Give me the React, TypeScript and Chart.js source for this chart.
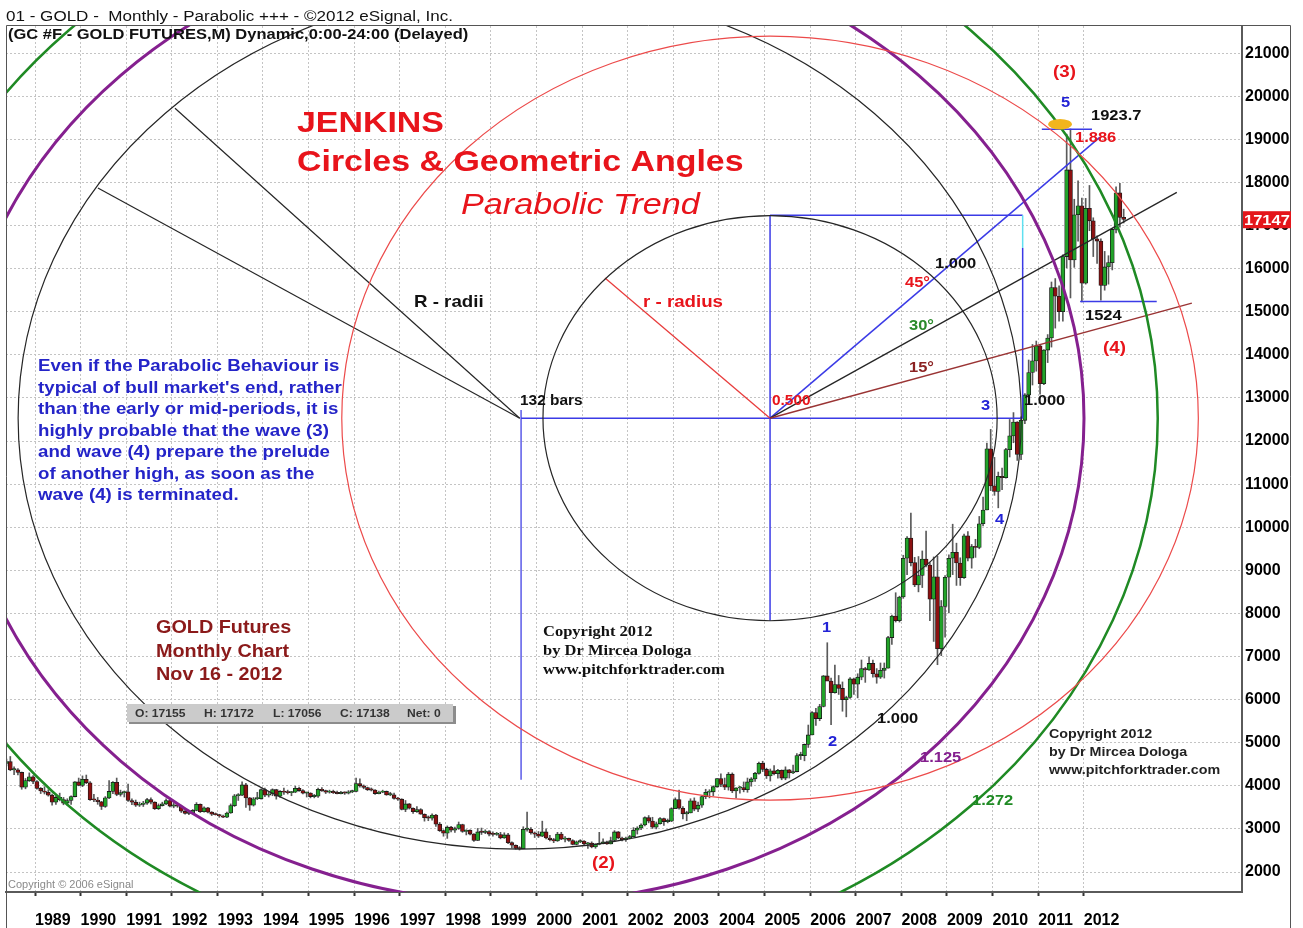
import React, { useEffect, useRef } from "react";
import { Chart, registerables } from "chart.js";

Chart.register(...registerables);

// ---------- DATA (prices in US$/oz; axis shows x10 as on the original) ----------
const FIRST_YEAR = 1988;
const FIRST_MONTH = 4; // May 1988 is the first monthly bar

const YEAR_TICKS = [1989, 1990, 1991, 1992, 1993, 1994, 1995, 1996, 1997, 1998, 1999, 2000,
  2001, 2002, 2003, 2004, 2005, 2006, 2007, 2008, 2009, 2010, 2011, 2012];
const PRICE_TICKS = [200, 300, 400, 500, 600, 700, 800, 900, 1000, 1100, 1200, 1300, 1400,
  1500, 1600, 1700, 1800, 1900, 2000, 2100];

const opens = [
  452, 456, 437, 437, 431, 397, 412, 421,
  410, 394, 388, 385, 378, 362, 373, 368, 360, 366, 375, 409,
  401, 415, 407, 368, 367, 363, 352, 372, 387, 408, 380, 384,
  386, 366, 362, 355, 357, 360, 368, 362, 347, 354, 358, 366,
  353, 354, 353, 341, 336, 337, 343, 357, 340, 349, 339, 334,
  333, 330, 327, 337, 354, 377, 378, 402, 372, 355, 370, 370,
  391, 378, 381, 391, 376, 387, 385, 384, 385, 394, 389, 383,
  383, 375, 376, 392, 389, 385, 387, 384, 382, 384, 383, 386,
  387, 405, 400, 396, 391, 390, 382, 385, 387, 379, 379, 371,
  369, 345, 358, 348, 340, 345, 334, 326, 325, 332, 311, 296,
  290, 304, 297, 301, 310, 294, 297, 288, 273, 293, 292, 294,
  288, 287, 287, 279, 286, 268, 262, 255, 254, 299, 299, 291,
  288, 283, 293, 279, 275, 272, 288, 276, 278, 273, 264, 270,
  272, 265, 267, 258, 264, 266, 270, 265, 273, 293, 279, 275,
  279, 282, 297, 302, 309, 326, 318, 304, 312, 324, 317, 318,
  347, 368, 348, 335, 337, 365, 346, 355, 375, 385, 386, 398,
  417, 403, 397, 427, 388, 395, 396, 391, 409, 416, 429, 452,
  438, 423, 435, 428, 436, 418, 437, 430, 433, 470, 470, 496,
  518, 570, 556, 584, 655, 643, 616, 635, 626, 600, 605, 648,
  636, 652, 672, 669, 684, 660, 652, 668, 673, 744, 794, 783,
  838, 928, 975, 918, 866, 888, 926, 912, 833, 885, 718, 816,
  884, 928, 942, 917, 883, 980, 928, 955, 953, 1008, 1040, 1182,
  1096, 1083, 1118, 1115, 1180, 1212, 1244, 1169, 1248, 1307, 1359, 1386,
  1421, 1333, 1411, 1439, 1556, 1536, 1500, 1628, 1829, 1620, 1725, 1746,
  1566, 1740, 1711, 1669, 1664, 1561, 1604, 1614, 1691, 1776, 1719,
];
const highs = [
  462, 468, 444, 440, 432, 417, 430, 424,
  412, 396, 398, 391, 381, 377, 383, 373, 370, 377, 410, 418,
  423, 425, 410, 380, 373, 364, 375, 412, 410, 418, 390, 388,
  404, 370, 367, 362, 364, 371, 372, 363, 358, 362, 370, 368,
  361, 358, 355, 344, 340, 345, 361, 358, 351, 350, 340, 337,
  334, 332, 339, 358, 380, 382, 409, 406, 373, 373, 385, 393,
  395, 385, 393, 392, 389, 395, 390, 387, 399, 397, 391, 385,
  384, 380, 395, 396, 390, 390, 390, 388, 387, 386, 389, 390,
  418, 416, 402, 397, 395, 391, 388, 390, 388, 385, 383, 373,
  370, 366, 359, 349, 352, 347, 335, 330, 335, 334, 315, 298,
  307, 306, 304, 316, 311, 298, 298, 289, 301, 302, 298, 296,
  293, 292, 292, 291, 290, 270, 263, 259, 305, 339, 303, 293,
  294, 318, 300, 285, 278, 292, 292, 282, 279, 275, 272, 275,
  273, 269, 270, 265, 292, 277, 272, 281, 296, 294, 281, 281,
  285, 303, 305, 312, 328, 331, 327, 316, 326, 325, 323, 349,
  372, 390, 352, 341, 370, 372, 362, 376, 392, 391, 400, 417,
  428, 418, 431, 430, 396, 399, 409, 418, 419, 431, 455, 457,
  441, 439, 447, 438, 437, 444, 438, 448, 475, 478, 497, 541,
  572, 580, 589, 656, 732, 650, 680, 656, 641, 608, 651, 650,
  660, 692, 675, 699, 692, 672, 685, 685, 747, 796, 848, 840,
  935, 978, 1033, 930, 932, 945, 991, 918, 931, 933, 830, 888,
  936, 1007, 963, 929, 984, 990, 960, 972, 1025, 1070, 1195, 1227,
  1162, 1128, 1137, 1183, 1250, 1266, 1245, 1256, 1310, 1388, 1424, 1432,
  1424, 1412, 1447, 1569, 1577, 1560, 1632, 1912, 1924, 1761, 1804, 1764,
  1763, 1793, 1718, 1676, 1669, 1640, 1630, 1693, 1790, 1798, 1738,
];
const lows = [
  446, 435, 426, 425, 392, 393, 410, 405,
  392, 382, 381, 376, 355, 357, 365, 356, 355, 357, 374, 400,
  398, 405, 366, 363, 357, 345, 350, 370, 382, 377, 376, 374,
  364, 356, 352, 352, 352, 357, 358, 345, 345, 353, 356, 351,
  349, 350, 338, 334, 333, 336, 342, 338, 339, 337, 331, 332,
  327, 326, 326, 336, 352, 366, 377, 350, 343, 353, 368, 369,
  375, 374, 377, 369, 373, 380, 381, 377, 384, 387, 381, 374,
  372, 372, 373, 387, 382, 383, 382, 381, 381, 380, 381, 384,
  386, 397, 393, 389, 388, 380, 381, 384, 378, 377, 369, 366,
  344, 340, 346, 336, 338, 334, 318, 319, 320, 306, 294, 283,
  278, 293, 292, 299, 292, 286, 286, 271, 273, 287, 289, 284,
  283, 285, 277, 278, 266, 256, 253, 251, 254, 295, 288, 280,
  280, 282, 277, 272, 268, 271, 275, 270, 271, 263, 263, 268,
  262, 255, 256, 255, 263, 265, 264, 265, 271, 277, 272, 271,
  277, 282, 288, 298, 307, 314, 301, 300, 311, 308, 314, 317,
  347, 346, 323, 319, 337, 342, 340, 350, 370, 372, 377, 396,
  398, 391, 390, 384, 372, 383, 386, 385, 399, 410, 427, 433,
  417, 411, 425, 418, 414, 414, 418, 428, 432, 461, 458, 489,
  518, 540, 551, 583, 649, 542, 615, 612, 573, 560, 603, 612,
  604, 646, 640, 668, 652, 638, 649, 650, 673, 728, 780, 780,
  835, 890, 910, 862, 850, 860, 908, 783, 735, 681, 702, 745,
  801, 890, 865, 865, 881, 922, 905, 930, 950, 1003, 1040, 1085,
  1074, 1045, 1087, 1114, 1163, 1196, 1155, 1157, 1240, 1307, 1330, 1362,
  1309, 1331, 1382, 1418, 1462, 1478, 1478, 1602, 1532, 1603, 1664, 1523,
  1564, 1688, 1628, 1612, 1527, 1550, 1564, 1597, 1683, 1696, 1706,
];
const closes = [
  456, 437, 437, 431, 397, 412, 421, 410,
  394, 388, 385, 378, 362, 373, 368, 360, 366, 375, 409, 401,
  415, 407, 368, 367, 363, 352, 372, 387, 408, 380, 384, 386,
  366, 362, 355, 357, 360, 368, 362, 347, 354, 358, 366, 353,
  354, 353, 341, 336, 337, 343, 357, 340, 349, 339, 334, 333,
  330, 327, 337, 354, 377, 378, 402, 372, 355, 370, 370, 391,
  378, 381, 391, 376, 387, 385, 384, 385, 394, 389, 383, 383,
  375, 376, 392, 389, 385, 387, 384, 382, 384, 383, 386, 387,
  405, 400, 396, 391, 390, 382, 385, 387, 379, 379, 371, 369,
  345, 358, 348, 340, 345, 334, 326, 325, 332, 311, 296, 290,
  304, 297, 301, 310, 294, 297, 288, 273, 293, 292, 294, 288,
  287, 287, 279, 286, 268, 262, 255, 254, 299, 299, 291, 288,
  283, 293, 279, 275, 272, 288, 276, 278, 273, 264, 270, 272,
  265, 267, 258, 264, 266, 270, 265, 273, 293, 279, 275, 279,
  282, 297, 302, 309, 326, 318, 304, 312, 324, 317, 318, 347,
  368, 348, 335, 337, 365, 346, 355, 375, 385, 386, 398, 417,
  403, 397, 427, 388, 395, 396, 391, 409, 416, 429, 452, 438,
  423, 435, 428, 436, 418, 437, 430, 433, 470, 470, 496, 518,
  570, 556, 584, 655, 643, 616, 635, 626, 600, 605, 648, 636,
  652, 672, 669, 684, 660, 652, 668, 673, 744, 794, 783, 838,
  928, 975, 918, 866, 888, 926, 912, 833, 885, 718, 816, 884,
  928, 942, 917, 883, 980, 928, 955, 953, 1008, 1040, 1182, 1096,
  1083, 1118, 1115, 1180, 1212, 1244, 1169, 1248, 1307, 1359, 1386, 1421,
  1333, 1411, 1439, 1556, 1536, 1500, 1628, 1829, 1620, 1725, 1746, 1566,
  1740, 1711, 1669, 1664, 1561, 1604, 1614, 1691, 1776, 1719, 1714,
];

// Geometry of the Jenkins circles (data units: years, US$)
const bigCenter = { x: 1999.63, y: 1253 };   // 1999 low pivot
const bigRadius = { x: 11, y: 1000 };        // 132 bars
const smallCenter = { x: 2005.12, y: 1253 };
const smallRadius = { x: 4.98, y: 470 };
const bigRatios = [1.0, 1.125, 1.272];
const smallRatios = [1.0, 1.886];

const lastPrice = 1714.7;
const highMark = 1923.7;
const lowMark = 1524;

// ---------- STYLE ----------
const FONT = 'Arial, "Liberation Sans", sans-serif';
const SERIF = '"Times New Roman", "Liberation Serif", serif';
const SX = 1.1;
const RED = "#e8141b";
const BLUE = "#2323d6";
const X_MIN = 1988.364;
const X_MAX = 2015.47;
const Y_MIN = 153.6;
const Y_MAX = 2163;

type P = { x: number; y: number };

const circles = [
  { c: bigCenter, r: bigRadius, f: bigRatios[0], color: "#262626", w: 1.2 },
  { c: bigCenter, r: bigRadius, f: bigRatios[1], color: "#85208f", w: 3 },
  { c: bigCenter, r: bigRadius, f: bigRatios[2], color: "#1f8a24", w: 2.5 },
  { c: smallCenter, r: smallRadius, f: smallRatios[0], color: "#262626", w: 1.2 },
  { c: smallCenter, r: smallRadius, f: smallRatios[1], color: "#ec4a4a", w: 1.2 },
];

const segments: { a: P; b: P; color: string; w: number }[] = [
  { a: bigCenter, b: { x: 1992.07, y: 1972 }, color: "#262626", w: 1.2 },
  { a: bigCenter, b: { x: 1990.38, y: 1787 }, color: "#262626", w: 1.2 },
  { a: { x: 1999.66, y: 1272 }, b: { x: 1999.66, y: 414 }, color: "#5b5be8", w: 1.5 },
  { a: { x: 1999.66, y: 1253 }, b: { x: 2010.66, y: 1253 }, color: "#3b3be6", w: 1.5 },
  { a: { x: 2005.12, y: 1724 }, b: { x: 2005.12, y: 783 }, color: "#3b3be6", w: 1.5 },
  { a: { x: 2005.12, y: 1724 }, b: { x: 2010.66, y: 1724 }, color: "#3b3be6", w: 1.5 },
  { a: { x: 2010.66, y: 1724 }, b: { x: 2010.66, y: 1648 }, color: "#5fe0f0", w: 1.5 },
  { a: { x: 2010.66, y: 1648 }, b: { x: 2010.66, y: 1253 }, color: "#3b3be6", w: 1.5 },
  { a: smallCenter, b: { x: 2001.5, y: 1578 }, color: "#e83c3c", w: 1.3 },
  { a: smallCenter, b: { x: 2012.355, y: 1905 }, color: "#3b3be6", w: 1.5 },
  { a: smallCenter, b: { x: 2014.04, y: 1777 }, color: "#262626", w: 1.3 },
  { a: smallCenter, b: { x: 2014.37, y: 1520 }, color: "#9a3434", w: 1.5 },
  { a: { x: 2011.08, y: highMark }, b: { x: 2012.18, y: highMark }, color: "#3b3be6", w: 1.5 },
  { a: { x: 2011.92, y: lowMark }, b: { x: 2013.6, y: lowMark }, color: "#3b3be6", w: 1.5 },
];

const paragraph = [
  "Even if the Parabolic Behaviour is",
  "typical of bull market's end, rather",
  "than the early or mid-periods, it is",
  "highly probable that the wave (3)",
  "and wave (4) prepare the prelude",
  "of another high, as soon as the",
  "wave (4) is terminated.",
];

type T = { t: string; x: number; y: number; f: string; c: string; s?: number };
const texts: T[] = [
  { t: "JENKINS", x: 297, y: 132, f: `bold 30px ${FONT}`, c: RED, s: 1.13 },
  { t: "Circles & Geometric Angles", x: 297, y: 171, f: `bold 30px ${FONT}`, c: RED, s: 1.13 },
  { t: "Parabolic Trend", x: 461, y: 214, f: `italic 30px ${FONT}`, c: RED, s: 1.14 },
  { t: "R - radii", x: 414, y: 307, f: `bold 17px ${FONT}`, c: "#111" },
  { t: "r - radius", x: 643, y: 307, f: `bold 17px ${FONT}`, c: RED },
  { t: "132 bars", x: 520, y: 405, f: `bold 14px ${FONT}`, c: "#111" },
  { t: "0.500", x: 772, y: 405, f: `bold 14px ${FONT}`, c: RED },
  { t: "1.000", x: 935, y: 268, f: `bold 15px ${FONT}`, c: "#111" },
  { t: "45°", x: 905, y: 287, f: `bold 15px ${FONT}`, c: RED },
  { t: "30°", x: 909, y: 330, f: `bold 15px ${FONT}`, c: "#2a8a2a" },
  { t: "15°", x: 909, y: 372, f: `bold 15px ${FONT}`, c: "#8b2222" },
  { t: "3", x: 981, y: 410, f: `bold 15px ${FONT}`, c: BLUE },
  { t: "1.000", x: 1024, y: 405, f: `bold 15px ${FONT}`, c: "#111" },
  { t: "4", x: 995, y: 524, f: `bold 15px ${FONT}`, c: BLUE },
  { t: "(3)", x: 1053, y: 77, f: `bold 17px ${FONT}`, c: RED },
  { t: "5", x: 1061, y: 107, f: `bold 15px ${FONT}`, c: BLUE },
  { t: "1923.7", x: 1091, y: 120, f: `bold 15px ${FONT}`, c: "#111" },
  { t: "1.886", x: 1075, y: 142, f: `bold 15px ${FONT}`, c: RED },
  { t: "1524", x: 1085, y: 320, f: `bold 15px ${FONT}`, c: "#111" },
  { t: "(4)", x: 1103, y: 353, f: `bold 17px ${FONT}`, c: RED },
  { t: "1", x: 822, y: 632, f: `bold 15px ${FONT}`, c: BLUE },
  { t: "2", x: 828, y: 746, f: `bold 15px ${FONT}`, c: BLUE },
  { t: "1.000", x: 877, y: 723, f: `bold 15px ${FONT}`, c: "#111" },
  { t: "1.125", x: 920, y: 762, f: `bold 15px ${FONT}`, c: "#85208f" },
  { t: "1.272", x: 972, y: 805, f: `bold 15px ${FONT}`, c: "#1f8a24" },
  { t: "(2)", x: 592, y: 868, f: `bold 17px ${FONT}`, c: RED },
  { t: "GOLD Futures", x: 156, y: 633, f: `bold 18px ${FONT}`, c: "#8b1a1a" },
  { t: "Monthly Chart", x: 156, y: 657, f: `bold 18px ${FONT}`, c: "#8b1a1a" },
  { t: "Nov 16 - 2012", x: 156, y: 680, f: `bold 18px ${FONT}`, c: "#8b1a1a" },
  { t: "Copyright 2012", x: 543, y: 636, f: `bold 15px ${SERIF}`, c: "#111" },
  { t: "by Dr Mircea Dologa", x: 543, y: 655, f: `bold 15px ${SERIF}`, c: "#111" },
  { t: "www.pitchforktrader.com", x: 543, y: 674, f: `bold 15px ${SERIF}`, c: "#111" },
  { t: "Copyright 2012", x: 1049, y: 738, f: `bold 13px ${FONT}`, c: "#222" },
  { t: "by Dr Mircea Dologa", x: 1049, y: 756, f: `bold 13px ${FONT}`, c: "#222" },
  { t: "www.pitchforktrader.com", x: 1049, y: 774, f: `bold 13px ${FONT}`, c: "#222" },
  { t: "Copyright © 2006 eSignal", x: 8, y: 888, f: `10px ${FONT}`, c: "#8a8a8a" },
  { t: "01 - GOLD -  Monthly - Parabolic +++ - ©2012 eSignal, Inc.", x: 6, y: 21, f: `15.5px ${FONT}`, c: "#111" },
  { t: "(GC #F - GOLD FUTURES,M) Dynamic,0:00-24:00 (Delayed)", x: 8, y: 39, f: `bold 15px ${FONT}`, c: "#111" },
];

function drawText(ctx: CanvasRenderingContext2D, t: string, x: number, y: number, f: string, c: string, s = SX) {
  ctx.save();
  ctx.font = f;
  ctx.fillStyle = c;
  ctx.textAlign = "left";
  ctx.textBaseline = "alphabetic";
  ctx.translate(x, y);
  ctx.scale(s, 1);
  ctx.fillText(t, 0, 0);
  ctx.restore();
}

const overlay = {
  id: "jenkins",
  afterDatasetsDraw(chart: any) {
    const ctx: CanvasRenderingContext2D = chart.ctx;
    const xs = chart.scales.x;
    const ys = chart.scales.y;
    const X = (v: number) => xs.getPixelForValue(v);
    const Y = (v: number) => ys.getPixelForValue(v);
    const a = chart.chartArea;
    ctx.save();
    ctx.beginPath();
    ctx.rect(a.left, a.top, a.right - a.left, a.bottom - a.top);
    ctx.clip();
    for (const s of segments) {
      ctx.beginPath();
      ctx.strokeStyle = s.color;
      ctx.lineWidth = s.w;
      ctx.moveTo(X(s.a.x), Y(s.a.y));
      ctx.lineTo(X(s.b.x), Y(s.b.y));
      ctx.stroke();
    }
    for (const k of circles) {
      const cx = X(k.c.x);
      const cy = Y(k.c.y);
      const rx = Math.abs(X(k.c.x + k.r.x * k.f) - cx);
      const ry = Math.abs(Y(k.c.y + k.r.y * k.f) - cy);
      ctx.beginPath();
      ctx.strokeStyle = k.color;
      ctx.lineWidth = k.w;
      ctx.ellipse(cx, cy, rx, ry, 0, 0, Math.PI * 2);
      ctx.stroke();
    }
    // highlight of the 1923.7 top
    ctx.beginPath();
    ctx.fillStyle = "#f2b51c";
    const hx = X(2011.48);
    const hy = Y(1935);
    ctx.ellipse(hx, hy, Math.abs(X(2011.74) - hx), Math.abs(Y(1947) - hy), 0, 0, Math.PI * 2);
    ctx.fill();
    ctx.restore();
  },
  afterDraw(chart: any) {
    const ctx: CanvasRenderingContext2D = chart.ctx;
    const ys = chart.scales.y;
    const a = chart.chartArea;
    // frame
    ctx.save();
    ctx.strokeStyle = "#555";
    ctx.lineWidth = 1;
    ctx.beginPath();
    ctx.moveTo(a.left + 0.5, 928);
    ctx.lineTo(a.left + 0.5, a.top - 0.5);
    ctx.lineTo(1290.5, a.top - 0.5);
    ctx.lineTo(1290.5, 928);
    ctx.stroke();
    ctx.restore();
    for (const t of texts) drawText(ctx, t.t, t.x, t.y, t.f, t.c, t.s ?? SX);
    paragraph.forEach((line, i) =>
      drawText(ctx, line, 38, 371 + i * 21.5, `bold 17px ${FONT}`, "#2424c8")
    );
    // OHLC box
    ctx.save();
    ctx.fillStyle = "#8c8c8c";
    ctx.fillRect(129, 706, 327, 18);
    ctx.fillStyle = "#cbcbcb";
    ctx.fillRect(127, 704, 326, 18);
    ctx.restore();
    const ohlc = [["O: 17155", 135], ["H: 17172", 204], ["L: 17056", 273], ["C: 17138", 340], ["Net: 0", 407]] as const;
    for (const [s, x] of ohlc) drawText(ctx, s, x, 717, `bold 11px ${FONT}`, "#333");
    // last price marker
    const py = ys.getPixelForValue(lastPrice);
    ctx.save();
    ctx.fillStyle = "#e4161b";
    ctx.fillRect(a.right + 1, py - 8, 48, 17);
    ctx.restore();
    drawText(ctx, String(Math.round(lastPrice * 10)), a.right + 2, py + 6, `bold 15px ${FONT}`, "#fff");
  },
};

export default function App() {
  const ref = useRef<HTMLCanvasElement>(null);
  useEffect(() => {
    document.body.style.margin = "0";
    const canvas = ref.current!;
    const xs = closes.map((_, i) => {
      const m = FIRST_MONTH + i;
      return FIRST_YEAR + Math.floor(m / 12) + ((m % 12) + 0.5) / 12;
    });
    const up = closes.map((c, i) => c >= opens[i]);
    const chart = new Chart(canvas, {
      type: "bar",
      data: {
        datasets: [
          {
            label: "body",
            data: xs.map((x, i) => ({ x, y: [opens[i], closes[i]] })) as any,
            backgroundColor: up.map((u) => (u ? "#22a329" : "#8c1111")),
            borderColor: "#1a1a1a",
            borderWidth: 0.8,
            borderSkipped: false,
            barThickness: 4,
            minBarLength: 1.2,
            grouped: false,
            order: 0,
          } as any,
          {
            label: "wick",
            data: xs.map((x, i) => ({ x, y: [lows[i], highs[i]] })) as any,
            backgroundColor: "#5a5a5a",
            borderWidth: 0,
            barThickness: 1,
            grouped: false,
            order: 1,
          } as any,
        ],
      },
      options: {
        responsive: false,
        animation: false,
        devicePixelRatio: 1,
        layout: { padding: { left: 6, top: 26, right: 12, bottom: 0 } },
        plugins: { legend: { display: false }, tooltip: { enabled: false } },
        scales: {
          x: {
            type: "linear",
            min: X_MIN,
            max: X_MAX,
            offset: false,
            afterBuildTicks: (s: any) => {
              s.ticks = YEAR_TICKS.map((v) => ({ value: v }));
            },
            afterFit: (s: any) => {
              s.height = 36;
            },
            ticks: {
              align: "start",
              autoSkip: false,
              maxRotation: 0,
              padding: 15,
              color: "#000",
              font: { family: FONT, size: 16, weight: "bold" },
              callback: (v: any) => String(v),
            },
            grid: {
              color: "#c4c4c4",
              lineWidth: 1,
              offset: false,
              drawTicks: true,
              tickLength: 4,
              tickColor: "#333",
              tickWidth: 2,
            },
            border: { display: true, color: "#5a5a5a", width: 2, dash: [2, 2] },
          } as any,
          y: {
            type: "linear",
            position: "right",
            min: Y_MIN,
            max: Y_MAX,
            afterBuildTicks: (s: any) => {
              s.ticks = PRICE_TICKS.map((v) => ({ value: v }));
            },
            afterFit: (s: any) => {
              s.width = 49;
            },
            ticks: {
              padding: 3,
              color: "#000",
              font: { family: FONT, size: 16, weight: "bold" },
              callback: (v: any) => String(Math.round(Number(v) * 10)),
            },
            grid: { color: "#c4c4c4", lineWidth: 1, drawTicks: false },
            border: { display: true, color: "#5a5a5a", width: 2, dash: [2, 2] },
          } as any,
        },
      },
      plugins: [overlay],
    });
    return () => chart.destroy();
  }, []);
  return <canvas ref={ref} width={1303} height={928} style={{ display: "block", width: 1303, height: 928 }} />;
}
